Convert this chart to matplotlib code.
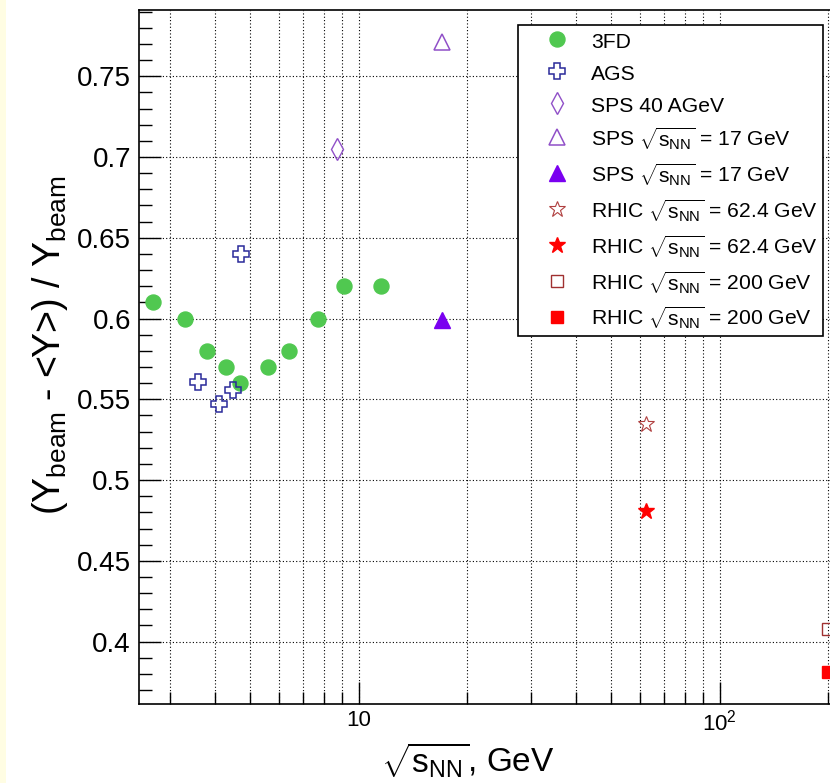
import matplotlib
matplotlib.use("Agg")
import matplotlib.pyplot as plt
from matplotlib.patches import Rectangle
from matplotlib.ticker import FixedLocator, NullFormatter, FixedFormatter

plt.rcParams['font.family'] = ['Liberation Sans', 'DejaVu Sans']
plt.rcParams['mathtext.fontset'] = 'custom'
plt.rcParams['mathtext.rm'] = 'Liberation Sans'
plt.rcParams['mathtext.it'] = 'Liberation Sans'
plt.rcParams['mathtext.bf'] = 'Liberation Sans:bold'

# 3FD model
fd_x = [2.7, 3.3, 3.8, 4.3, 4.7, 5.6, 6.4, 7.7, 9.1, 11.5]
fd_y = [0.61, 0.60, 0.58, 0.57, 0.56, 0.57, 0.58, 0.60, 0.62, 0.62]

# AGS data
ags_x = [3.6, 4.1, 4.5, 4.73]
ags_y = [0.561, 0.547, 0.556, 0.640]

# SPS data
sps40_x = [8.7]
sps40_y = [0.705]
sps17_open_x = [17.0]
sps17_open_y = [0.771]
sps17_fill_x = [17.0]
sps17_fill_y = [0.599]

# RHIC data
rhic62_open_x = [62.4]
rhic62_open_y = [0.535]
rhic62_fill_x = [62.4]
rhic62_fill_y = [0.481]
rhic200_open_x = [200.0]
rhic200_open_y = [0.408]
rhic200_fill_x = [200.0]
rhic200_fill_y = [0.381]

yticks = [0.4, 0.45, 0.5, 0.55, 0.6, 0.65, 0.7, 0.75]
ytick_labels = ['0.4', '0.45', '0.5', '0.55', '0.6', '0.65', '0.7', '0.75']

fig = plt.figure(figsize=(8.3, 7.83), dpi=100)
fig.patches.append(Rectangle((0, 0), 6.0 / 830, 1, transform=fig.transFigure,
                             facecolor='#fffde3', edgecolor='none', zorder=0))

ax = fig.add_axes([139.3 / 830, 79.0 / 783, 752.5 / 830, 694.0 / 783])
ax.set_xscale('log')
ax.set_xlim(2.468, 2.468 * 10 ** (752.5 / 361.0))
ax.set_ylim(0.3614, 0.791)

sqrt_nn = r'$\sqrt{s_{NN}}$'
ax.plot(fd_x, fd_y, 'o', color='#50c850', ms=10.8, mec='#50c850', ls='none', label='3FD')
ax.plot(ags_x, ags_y, 'P', mfc='none', mec='#2a2a9a', mew=1.1, ms=12, ls='none', label='AGS')
ax.plot(sps40_x, sps40_y, 'd', mfc='none', mec='#9050c8', mew=1.0, ms=11, ls='none', label='SPS 40 AGeV')
ax.plot(sps17_open_x, sps17_open_y, '^', mfc='none', mec='#9050c8', mew=1.1, ms=11, ls='none',
        label='SPS ' + sqrt_nn + ' = 17 GeV')
ax.plot(sps17_fill_x, sps17_fill_y, '^', color='#7a00f0', ms=11, ls='none',
        label='SPS ' + sqrt_nn + ' = 17 GeV')
ax.plot(rhic62_open_x, rhic62_open_y, '*', mfc='none', mec='#b04040', mew=0.8, ms=12, ls='none',
        label='RHIC ' + sqrt_nn + ' = 62.4 GeV')
ax.plot(rhic62_fill_x, rhic62_fill_y, '*', color='#ff0000', ms=12, ls='none',
        label='RHIC ' + sqrt_nn + ' = 62.4 GeV')
ax.plot(rhic200_open_x, rhic200_open_y, 's', mfc='none', mec='#a03030', mew=1.0, ms=9, ls='none',
        label='RHIC ' + sqrt_nn + ' = 200 GeV')
ax.plot(rhic200_fill_x, rhic200_fill_y, 's', color='#ff0000', ms=9, ls='none',
        label='RHIC ' + sqrt_nn + ' = 200 GeV')

# ticks
ax.xaxis.set_major_locator(FixedLocator([10, 100]))
ax.xaxis.set_major_formatter(FixedFormatter(['10', r'$10^{2}$']))
ax.xaxis.set_minor_locator(FixedLocator([3, 4, 5, 6, 7, 8, 9, 20, 30, 40, 50, 60, 70, 80, 90, 200]))
ax.xaxis.set_minor_formatter(NullFormatter())
ax.yaxis.set_major_locator(FixedLocator(yticks))
ax.yaxis.set_major_formatter(FixedFormatter(ytick_labels))
ax.yaxis.set_minor_locator(FixedLocator([v / 100 for v in range(37, 80)]))
ax.tick_params(axis='both', which='both', direction='in', top=False, right=False, color='black')
ax.tick_params(axis='y', which='major', length=16, width=1.0, labelsize=20, pad=6)
ax.tick_params(axis='y', which='minor', length=9, width=1.0)
ax.tick_params(axis='x', which='major', length=16, width=1.0, labelsize=16, pad=4)
ax.tick_params(axis='x', which='minor', length=9, width=1.0)

ax.grid(True, which='major', axis='both', color='black', ls=(0, (1, 2)), lw=0.8)
ax.grid(True, which='minor', axis='x', color='black', ls=(0, (1, 2)), lw=0.8)
for s in ax.spines.values():
    s.set_linewidth(1.2)

ax.set_xlabel(sqrt_nn + ', GeV', fontsize=24)
ax.xaxis.set_label_coords((468 - 139.3) / 752.5, (704 - 760) / 694.0)
ax.xaxis.label.set_va('center')
ax.set_ylabel(r'(Y$_{beam}$ - <Y>) / Y$_{beam}$', fontsize=27)
ax.yaxis.set_label_coords((50 - 139.3) / 752.5, (704 - 345) / 694.0)
ax.yaxis.label.set_va('center')

leg = ax.legend(loc='upper left', bbox_to_anchor=((518 - 139.3) / 752.5, (704 - 25) / 694.0),
                borderaxespad=0, fontsize=15.2, frameon=True, fancybox=False, framealpha=1,
                edgecolor='black', handlelength=3.25, handleheight=1.3, handletextpad=0.0,
                labelspacing=0.42, borderpad=0.22, numpoints=1)
leg.get_frame().set_linewidth(1.2)

fig.savefig('out.png', dpi=100)
